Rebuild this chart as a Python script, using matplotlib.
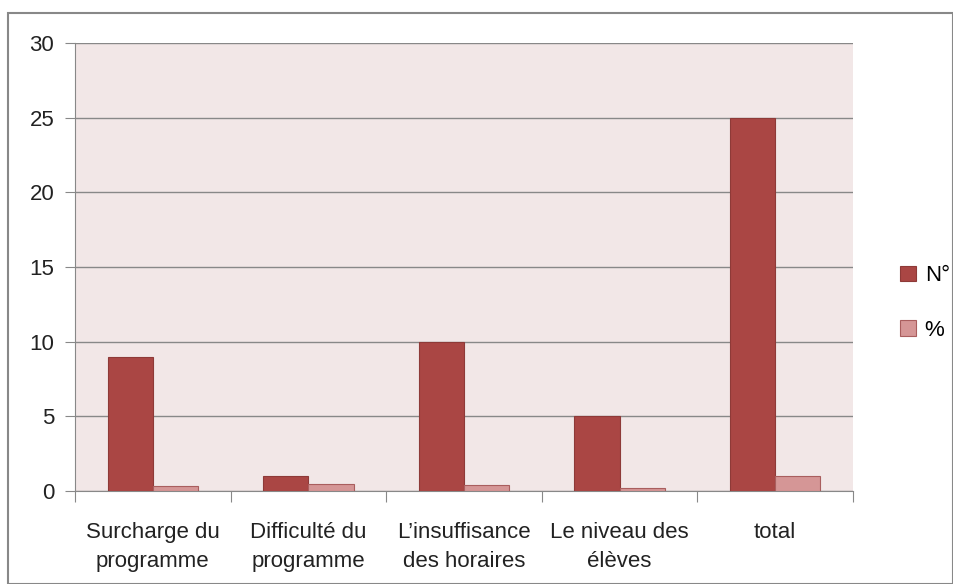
import matplotlib
matplotlib.use("Agg")
import matplotlib.pyplot as plt
import numpy as np
from matplotlib.patches import Rectangle

# donnees
categories = ["Surcharge du\nprogramme", "Difficulté du\nprogramme", "L\u2019insuffisance\ndes horaires",
              "Le niveau des\nélèves", "total"]
nombre = [9, 1, 10, 5, 25]
pourcent = [0.36, 0.44, 0.4, 0.2, 1.0]
series = ["N°", "%"]

plt.rcParams['font.family'] = ['Liberation Sans', 'DejaVu Sans']

fig = plt.figure(figsize=(9.54, 5.84), dpi=100, facecolor="white")
ax = fig.add_axes([75/954, 1-491/584, 778/954, 448/584])
ax.set_facecolor("#F2E7E7")

x = np.arange(len(categories))
w = 0.29
ax.bar(x - w/2, nombre, w, color="#AA4644", edgecolor="#8E3A38", linewidth=0.8, label=series[0], zorder=3)
ax.bar(x + w/2, pourcent, w, color="#D59696", edgecolor="#A95E5E", linewidth=0.8, label=series[1], zorder=3)

ax.set_xlim(-0.5, len(categories) - 0.5)
ax.set_ylim(0, 30)
ax.set_yticks(range(0, 31, 5))
ax.yaxis.grid(True, color="#888888", linewidth=1)
ax.set_axisbelow(True)

for s in ["top", "right"]:
    ax.spines[s].set_visible(False)
ax.spines["left"].set_color("#888888")
ax.spines["bottom"].set_color("#888888")

ax.set_xticks(np.arange(-0.5, len(categories), 1))
ax.set_xticklabels([])
ax.set_xticks(x, minor=True)
ax.set_xticklabels(categories, minor=True, fontsize=16, color="#222222", linespacing=1.55)
ax.tick_params(axis="x", which="major", length=8, color="#888888")
ax.tick_params(axis="x", which="minor", length=0, pad=22)
ax.tick_params(axis="y", length=7, color="#888888", labelsize=16, labelcolor="#222222", pad=8)

leg = ax.legend(loc="center left", bbox_to_anchor=(1.035, 0.42), frameon=False, fontsize=16,
                handlelength=0.7, handleheight=0.7, handletextpad=0.4, labelspacing=1.5)

fig.patches.append(Rectangle((8/954, 0), 945/954, 1 - 13/584, transform=fig.transFigure,
                             fill=False, edgecolor="#888888", linewidth=1.5))

fig.savefig("out.png", dpi=100)
